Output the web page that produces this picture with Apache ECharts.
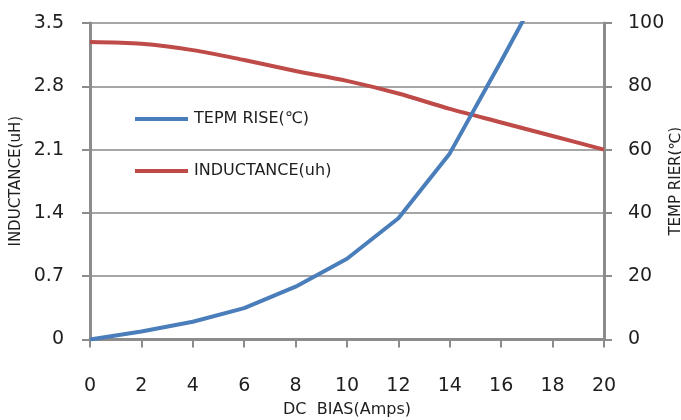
<!DOCTYPE html>
<html>
<head>
<meta charset="utf-8">
<script src="https://cdn.jsdelivr.net/npm/echarts@6/dist/echarts.min.js"></script>
<style>
html,body{margin:0;padding:0;background:#fff;}
#chart{width:681px;height:420px;}
</style>
</head>
<body>
<div id="chart"></div>
<script>
// DC bias (Amps)
const dcBias = [0, 2, 4, 6, 8, 10, 12, 14, 16, 18, 20];
// Temperature rise (℃), right axis
const tempRise = [0, 2.5, 5.6, 9.9, 16.7, 25.5, 38.3, 58.8, 88, 118, 155];
// Inductance (uH), left axis
const inductance = [3.29, 3.27, 3.20, 3.09, 2.97, 2.86, 2.72, 2.55, 2.40, 2.25, 2.10];

const nameTemp = 'TEPM RISE(℃)';
const nameInd = 'INDUCTANCE(uh)';

const FONT = 'DejaVu Sans';
const axisGray = '#8c8c8c';
const textColor = '#1e1e1e';

const chart = echarts.init(document.getElementById('chart'));
chart.setOption({
  animation: false,
  backgroundColor: '#fff',
  textStyle: { fontFamily: FONT },
  grid: { left: 90, right: 77, top: 23, bottom: 80.5, containLabel: false, outerBoundsMode: 'none' },
  legend: {
    orient: 'vertical',
    left: 130,
    top: 104,
    itemGap: 32,
    itemWidth: 53,
    itemHeight: 4,
    icon: 'rect',
    textStyle: { fontFamily: FONT, fontSize: 16, color: textColor, lineHeight: 20, padding: [0,0,0,1] },
    data: [nameTemp, nameInd]
  },
  xAxis: {
    type: 'value',
    min: 0, max: 20, interval: 2,
    name: 'DC  BIAS(Amps)',
    nameLocation: 'middle',
    nameGap: 62,
    nameMoveOverlap: false,
    nameTextStyle: { fontFamily: FONT, fontSize: 16, color: textColor },
    axisLine: { lineStyle: { color: axisGray, width: 3 } },
    axisTick: { show: true, length: 8, lineStyle: { color: axisGray, width: 2 } },
    axisLabel: { fontFamily: FONT, fontSize: 19, color: textColor, margin: 37 },
    splitLine: { show: false }
  },
  yAxis: [
    {
      type: 'value',
      min: 0, max: 3.5, interval: 0.7,
      name: 'INDUCTANCE(uH)',
      nameLocation: 'middle',
      nameRotate: 90,
      nameGap: 66,
      nameMoveOverlap: false,
      nameTextStyle: { fontFamily: FONT, fontSize: 15, color: textColor },
      axisLine: { show: true, lineStyle: { color: axisGray, width: 3 } },
      axisTick: { show: true, length: 8, lineStyle: { color: axisGray, width: 2 } },
      axisLabel: { fontFamily: FONT, fontSize: 19, color: textColor, margin: 26,
        formatter: v => String(+v.toFixed(1)) },
      splitLine: { show: true, lineStyle: { color: '#a6a6a6', width: 2 } }
    },
    {
      type: 'value',
      min: 0, max: 100, interval: 20,
      name: 'TEMP RIER(℃)',
      nameLocation: 'middle',
      nameRotate: 90,
      nameGap: 65,
      nameMoveOverlap: false,
      nameTextStyle: { fontFamily: FONT, fontSize: 15, color: textColor },
      axisLine: { show: true, lineStyle: { color: axisGray, width: 3 } },
      axisTick: { show: true, length: 8, lineStyle: { color: axisGray, width: 2 } },
      axisLabel: { fontFamily: FONT, fontSize: 19, color: textColor, margin: 24 },
      splitLine: { show: false }
    }
  ],
  series: [
    {
      name: nameTemp,
      type: 'line',
      yAxisIndex: 1,
      data: dcBias.map((x, i) => [x, tempRise[i]]),
      showSymbol: false,
      clip: true,
      lineStyle: { color: '#4a7ebb', width: 4 },
      itemStyle: { color: '#4a7ebb' },
      z: 3
    },
    {
      name: nameInd,
      type: 'line',
      yAxisIndex: 0,
      data: dcBias.map((x, i) => [x, inductance[i]]),
      showSymbol: false,
      smooth: 0.3,
      clip: true,
      lineStyle: { color: '#be4b48', width: 4 },
      itemStyle: { color: '#be4b48' },
      z: 2
    }
  ]
});
</script>
</body>
</html>
